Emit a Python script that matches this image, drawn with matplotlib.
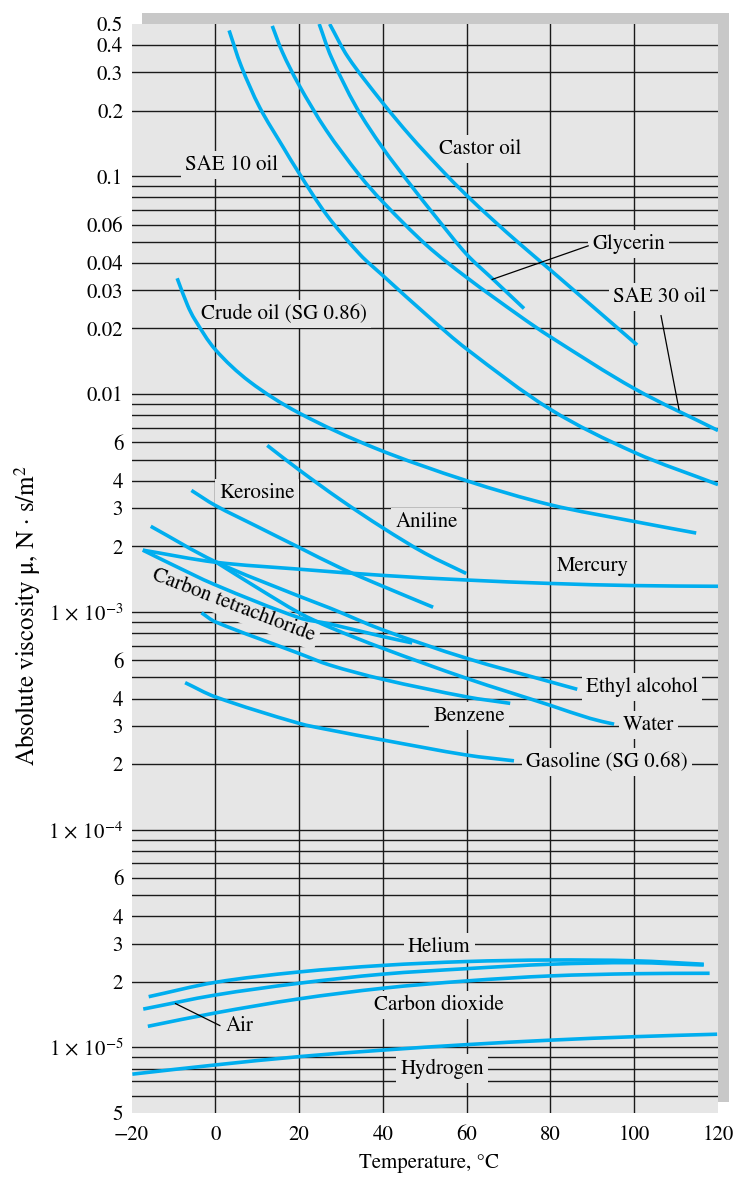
import numpy as np
import matplotlib.pyplot as plt
from matplotlib.patches import Rectangle, PathPatch
from matplotlib.path import Path

plt.rcParams['font.family'] = ['STIXGeneral', 'DejaVu Sans']
plt.rcParams['mathtext.fontset'] = 'stix'

# temperature in deg C, viscosity in N.s/m^2
sae10_t = [3.3, 6.2, 10.6, 16.2, 19.9, 26.5, 34.5, 40, 51.2, 60, 80, 100, 120]
sae10_mu = [0.467, 0.32, 0.207, 0.136, 0.104, 0.0668, 0.0438, 0.035, 0.0224, 0.0161, 0.0085, 0.0054, 0.00384]

sae30_t = [13.6, 16.0, 19.9, 26.5, 34.5, 40, 50.4, 60, 72.7, 80, 100, 120]
sae30_mu = [0.49, 0.372, 0.264, 0.1625, 0.1007, 0.0762, 0.0483, 0.0343, 0.0228, 0.0183, 0.0106, 0.0068]

glyc_t = [24.8, 27.7, 33.7, 39.9, 46.5, 52.8, 60, 66.4, 73.7]
glyc_mu = [0.5, 0.352, 0.207, 0.1355, 0.0919, 0.0645, 0.0438, 0.0335, 0.0247]

castor_t = [27.3, 31.7, 39.9, 46.5, 53.6, 60, 66.4, 72.7, 80, 100.7]
castor_mu = [0.5, 0.352, 0.218, 0.1535, 0.109, 0.0817, 0.0627, 0.0489, 0.0371, 0.0168]

crude_t = [-9.1, -6.6, -4.9, 0, 8.2, 19.9, 38.1, 60, 80, 100, 114.8]
crude_mu = [0.034, 0.0255, 0.022, 0.016, 0.0114, 0.0082, 0.00565, 0.0040, 0.0031, 0.0026, 0.0023]

aniline_t = [12.4, 19.9, 29.9, 40, 50, 59.9]
aniline_mu = [0.00581, 0.0045, 0.00327, 0.00243, 0.00186, 0.0015]

kero_t = [-5.7, 0, 9.9, 19.9, 29.9, 40, 52]
kero_mu = [0.00361, 0.00308, 0.00247, 0.00198, 0.00159, 0.00131, 0.00105]

mercury_t = [-17.3, 0, 20, 40, 60, 80, 100, 120]
mercury_mu = [0.00192, 0.00169, 0.00157, 0.00147, 0.0014, 0.00135, 0.00132, 0.00131]

ccl4_t = [-17.3, -10.9, 0, 20, 27.3, 40, 47]
ccl4_mu = [0.00192, 0.00167, 0.00133, 0.00094, 0.00088, 0.00077, 0.00072]

ethanol_t = [-15.4, 0, 20, 27.4, 40, 60, 80, 86.4]
ethanol_mu = [0.00247, 0.0017, 0.00118, 0.00104, 0.000826, 0.000612, 0.000477, 0.000441]

water_t = [0, 10, 20, 27.3, 40, 60, 80, 89.5, 95.2]
water_mu = [0.0017, 0.00129, 0.00099, 0.00085, 0.00068, 0.000495, 0.000372, 0.000324, 0.000305]

benzene_t = [-3.3, 0, 19.9, 27.3, 40, 60, 70.4]
benzene_mu = [0.00099, 0.0009, 0.000645, 0.00057, 0.00049, 0.000407, 0.00038]

gasoline_t = [-7.2, 0, 19.9, 27.3, 40, 60, 71.3]
gasoline_mu = [0.000473, 0.000407, 0.000308, 0.000287, 0.000258, 0.00022, 0.000207]

helium_t = [-15.9, 0, 19.9, 40, 60, 80, 100, 116.6]
helium_mu = [1.71e-5, 1.99e-5, 2.22e-5, 2.38e-5, 2.48e-5, 2.52e-5, 2.50e-5, 2.41e-5]

air_t = [-17.2, 0, 19.9, 40, 60, 80, 100, 116.6]
air_mu = [1.50e-5, 1.74e-5, 1.97e-5, 2.17e-5, 2.30e-5, 2.41e-5, 2.45e-5, 2.39e-5]

co2_t = [-16.1, 0, 19.9, 40, 60, 80, 100, 118]
co2_mu = [1.25e-5, 1.44e-5, 1.67e-5, 1.87e-5, 2.02e-5, 2.13e-5, 2.18e-5, 2.19e-5]

h2_t = [-19.8, 0, 19.9, 40, 60, 80, 100, 119.8]
h2_mu = [7.54e-6, 8.31e-6, 9.07e-6, 9.72e-6, 1.03e-5, 1.08e-5, 1.12e-5, 1.15e-5]

curves = [(sae10_t, sae10_mu), (sae30_t, sae30_mu), (glyc_t, glyc_mu), (castor_t, castor_mu),
          (crude_t, crude_mu), (aniline_t, aniline_mu), (kero_t, kero_mu), (mercury_t, mercury_mu),
          (ccl4_t, ccl4_mu), (ethanol_t, ethanol_mu), (water_t, water_mu), (benzene_t, benzene_mu),
          (gasoline_t, gasoline_mu), (helium_t, helium_mu), (air_t, air_mu), (co2_t, co2_mu),
          (h2_t, h2_mu)]

x_ticks = [-20, 0, 20, 40, 60, 80, 100, 120]
x_labels = ['\u221220', '0', '20', '40', '60', '80', '100', '120']
y_ticks = [0.5, 0.4, 0.3, 0.2, 0.1, 0.06, 0.04, 0.03, 0.02, 0.01,
           6e-3, 4e-3, 3e-3, 2e-3, 1e-3, 6e-4, 4e-4, 3e-4, 2e-4, 1e-4,
           6e-5, 4e-5, 3e-5, 2e-5, 1e-5, 5e-6]
y_labels = ['0.5', '0.4', '0.3', '0.2', '0.1', '0.06', '0.04', '0.03', '0.02', '0.01',
            '6', '4', '3', '2', r'$1\,\times\,10^{-3}$', '6', '4', '3', '2', r'$1\,\times\,10^{-4}$',
            '6', '4', '3', '2', r'$1\,\times\,10^{-5}$', '5']

# label text, T, mu
labels = [("SAE 10 oil", 3.9, 0.113), ("Castor oil", 63.2, 0.133), ("Glycerin", 98.7, 0.049),
          ("SAE 30 oil", 106.0, 0.0279), ("Crude oil (SG 0.86)", 16.3, 0.0233),
          ("Kerosine", 10.0, 0.0035), ("Aniline", 50.5, 0.00259), ("Mercury", 90.2, 0.00162),
          ("Ethyl alcohol", 101.9, 0.000452), ("Benzene", 60.6, 0.000332),
          ("Water", 103.4, 0.000301), ("Gasoline (SG 0.68)", 93.4, 0.000204),
          ("Helium", 53.5, 2.88e-5), ("Carbon dioxide", 53.3, 1.56e-5),
          ("Air", 5.8, 1.25e-5), ("Hydrogen", 54.2, 8.0e-6)]

leaders = [((89.0, 0.0479), (66.1, 0.0336)),
           ((106.4, 0.0229), (110.7, 0.00847)),
           ((1.1, 1.26e-5), (-9.5, 1.59e-5))]

bg = '#e6e6e6'
blue = '#00aeef'


def smooth_path(t, mu):
    # cubic bezier through the read points, worked out in (T, log mu)
    # scaled roughly like the page so the tangents look right
    sx, sy = 4.185, 217.3
    p = np.column_stack([np.asarray(t, float) * sx, np.log10(mu) * sy])
    n = len(p)
    h = np.hypot(*np.diff(p, axis=0).T)
    d = np.zeros_like(p)
    d[0] = (p[1] - p[0]) / h[0]
    d[-1] = (p[-1] - p[-2]) / h[-1]
    for i in range(1, n - 1):
        d[i] = (p[i + 1] - p[i - 1]) / (h[i - 1] + h[i])
    verts = [p[0]]
    codes = [Path.MOVETO]
    for i in range(n - 1):
        verts += [p[i] + d[i] * h[i] / 3, p[i + 1] - d[i + 1] * h[i] / 3, p[i + 1]]
        codes += [Path.CURVE4] * 3
    verts = np.array(verts)
    verts[:, 0] = verts[:, 0] / sx
    verts[:, 1] = 10 ** (verts[:, 1] / sy)
    return Path(verts, codes)


fig = plt.figure(figsize=(7.38, 11.77), dpi=100)
ax = fig.add_axes([131.5 / 738, 1 - 1113 / 1177, (718 - 131.5) / 738, (1113 - 24) / 1177])
ax.set_facecolor(bg)

# drop shadow behind the plot area
fig.patches.append(Rectangle((142 / 738, 1 - 1102 / 1177), (729 - 142) / 738, (1102 - 13) / 1177,
                             transform=fig.transFigure, facecolor='#c8c8c8', edgecolor='none',
                             zorder=-5))

ax.set_yscale('log')
ax.set_xlim(-20, 120)
ax.set_ylim(5e-6, 0.5)

# grid
for x in [0, 20, 40, 60, 80, 100]:
    ax.axvline(x, color='#1a1a1a', lw=1.0, zorder=1)
for e in range(-6, 0):
    for k in range(1, 10):
        v = k * 10.0 ** e
        if 5e-6 < v < 0.5:
            ax.axhline(v, color='#1a1a1a', lw=1.0, zorder=1)

for t, mu in curves:
    ax.add_patch(PathPatch(smooth_path(t, mu), facecolor='none', edgecolor=blue, lw=2.6,
                           capstyle='butt', zorder=4))

box = dict(boxstyle='square,pad=0.2', facecolor=bg, edgecolor='none')
for txt, t, mu in labels:
    ax.text(t, mu, txt, fontsize=15, ha='center', va='center', bbox=box, zorder=3)
ax.text(4.4, 0.00107, "Carbon tetrachloride", fontsize=15, ha='center', va='center',
        rotation=-21, rotation_mode='anchor', bbox=box, zorder=3)

for (a, b) in leaders:
    ax.plot([a[0], b[0]], [a[1], b[1]], color='black', lw=0.9, zorder=5)

ax.set_xticks(x_ticks)
ax.set_xticklabels(x_labels)
ax.set_yticks(y_ticks)
ax.set_yticklabels(y_labels)
ax.minorticks_off()
ax.tick_params(axis='both', length=0, labelsize=15)
ax.tick_params(axis='x', pad=9)
ax.tick_params(axis='y', pad=6)
for s in ax.spines.values():
    s.set_visible(False)

ax.set_xlabel("Temperature, \u00b0C", fontsize=15)
ax.xaxis.set_label_coords(0.507, -0.046)
ax.xaxis.label.set_va('center')
ax.set_ylabel("Absolute viscosity \u03bc, N \u00b7 s/m$^2$", fontsize=18)
ax.yaxis.set_label_coords(-0.178, 0.457)
ax.yaxis.label.set_va('center')

fig.savefig('out.png', dpi=100)
